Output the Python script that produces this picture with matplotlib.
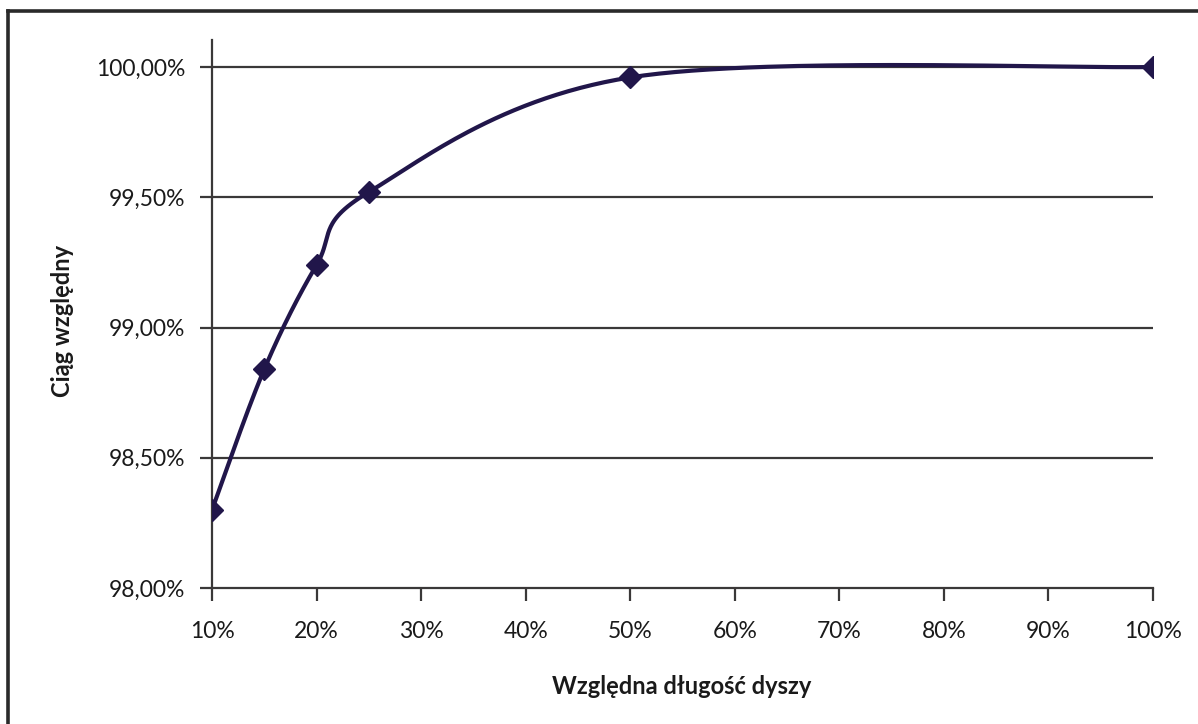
import numpy as np
import matplotlib
matplotlib.use("Agg")
import matplotlib.pyplot as plt
from matplotlib.lines import Line2D
from matplotlib.ticker import FuncFormatter

# Relative nozzle length (%) vs relative thrust (%)
length_pct = [10, 15, 20, 25, 50, 100]
thrust_pct = [98.30, 98.84, 99.24, 99.52, 99.96, 100.00]

x_ticks = [10, 20, 30, 40, 50, 60, 70, 80, 90, 100]
y_ticks = [98.0, 98.5, 99.0, 99.5, 100.0]

x_label = "Względna długość dyszy"
y_label = "Ciąg względny"

LINE = "#21164a"
GRID = "#3a3838"
FONT = "Lato"


def smooth_curve(xs, ys, n=60):
    """Spreadsheet-style smoothed line: cubic Bezier segments with
    Catmull-Rom control points (tension 1/6)."""
    p = np.column_stack([xs, ys]).astype(float)
    pts = np.vstack([p[0], p, p[-1]])
    out = []
    t = np.linspace(0, 1, n)[:, None]
    for i in range(1, len(pts) - 2):
        p0, p1, p2, p3 = pts[i - 1], pts[i], pts[i + 1], pts[i + 2]
        c1 = p1 + (p2 - p0) / 6.0
        c2 = p2 - (p3 - p1) / 6.0
        seg = ((1 - t) ** 3) * p1 + 3 * ((1 - t) ** 2) * t * c1 \
            + 3 * (1 - t) * t ** 2 * c2 + t ** 3 * p2
        out.append(seg if i == 1 else seg[1:])
    out = np.vstack(out)
    return out[:, 0], out[:, 1]


fig = plt.figure(figsize=(11.98, 7.24), dpi=100)
fig.patch.set_facecolor("white")

ax = fig.add_axes([212 / 1198, 1 - 588 / 724, (1153 - 212) / 1198, (588 - 40) / 724])
ax.set_xlim(10, 100)
ax.set_ylim(98.0, 98.0 + (588 - 40) / 260.5)

for yv in y_ticks[1:]:
    ax.axhline(yv, color=GRID, lw=1.6, zorder=1)

sx, sy = smooth_curve(length_pct, thrust_pct)
ax.plot(sx, sy, color=LINE, lw=3.0, solid_capstyle="round", zorder=3)
ax.plot(length_pct, thrust_pct, linestyle="none", marker="D", markersize=11.5,
        color=LINE, markeredgecolor=LINE, zorder=4)

ax.set_xticks(x_ticks)
ax.set_yticks(y_ticks)
ax.xaxis.set_major_formatter(FuncFormatter(lambda v, _: f"{v:.0f}%"))
ax.yaxis.set_major_formatter(FuncFormatter(lambda v, _: f"{v:.2f}%".replace(".", ",")))

for side in ("top", "right"):
    ax.spines[side].set_visible(False)
for side in ("left", "bottom"):
    ax.spines[side].set_color(GRID)
    ax.spines[side].set_linewidth(1.6)

ax.tick_params(axis="both", direction="out", length=9, width=1.6, color=GRID,
               labelsize=16.5, labelcolor="#1a1a1a")
ax.tick_params(axis="x", pad=15)
ax.tick_params(axis="y", pad=10)
for lab in ax.get_xticklabels() + ax.get_yticklabels():
    lab.set_family(FONT)

ax.set_facecolor("none")

fig.text(682 / 1198, 1 - 686 / 724, x_label, ha="center", va="center",
         fontsize=17, fontweight="bold", family=FONT, color="#1a1a1a")
fig.text(62 / 1198, 1 - 321 / 724, y_label, ha="center", va="center",
         rotation=90, fontsize=17, fontweight="bold", family=FONT, color="#1a1a1a")

# outer chart frame (left and top edges)
fig.add_artist(Line2D([8 / 1198, 8 / 1198], [0, 1 - 11 / 724],
                      transform=fig.transFigure, color="#2a2a2a", lw=2.6))
fig.add_artist(Line2D([8 / 1198, 1], [1 - 11 / 724, 1 - 11 / 724],
                      transform=fig.transFigure, color="#2a2a2a", lw=2.6))

fig.savefig("out.png", dpi=100, facecolor="white")
